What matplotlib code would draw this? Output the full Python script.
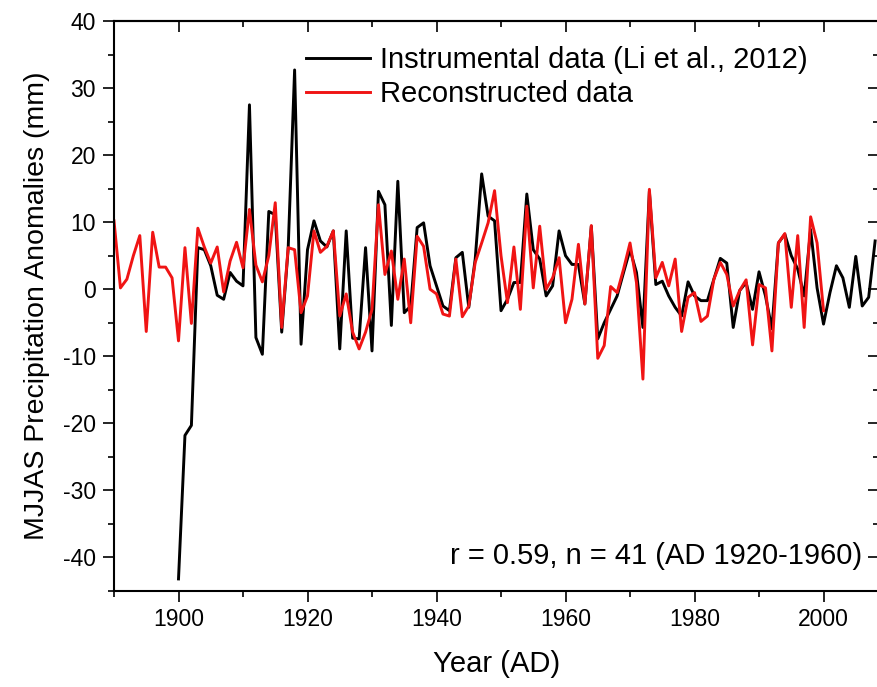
import matplotlib
matplotlib.use("Agg")
import matplotlib.pyplot as plt
from matplotlib.ticker import MultipleLocator

plt.rcParams['font.family'] = ['Liberation Sans', 'DejaVu Sans']
plt.rcParams['axes.unicode_minus'] = False

recon_years = list(range(1890, 2001))
recon_vals = [
    10.2, 0.2, 1.5, 5.0, 8.0, -6.3, 8.5, 3.3, 3.3, 1.7,
    -7.7, 6.2, -5.1, 9.1, 6.3, 3.9, 6.3, -0.4, 4.2, 7.0,
    3.2, 11.9, 3.6, 1.1, 5.0, 12.9, -5.7, 6.2, 5.9, -3.5,
    -1.0, 8.7, 5.5, 6.4, 8.7, -4.0, -0.7, -6.4, -8.9, -6.4,
    -3.0, 12.6, 2.2, 5.7, -1.5, 4.5, -5.0, 7.9, 6.4, 0.0,
    -0.7, -3.7, -4.0, 4.5, -4.1, -2.5, 4.0, 6.9, 9.9, 14.7,
    5.0, -2.0, 6.3, -3.0, 12.4, 0.2, 9.4, 0.0, 1.7, 4.7,
    -5.0, -1.5, 6.7, -2.2, 9.5, -10.3, -8.4, 0.4, -0.5, 3.0,
    6.9, 1.0, -13.4, 14.9, 1.7, 4.0, 0.5, 4.5, -6.3, -1.2,
    -0.5, -4.8, -4.0, 1.5, 4.0, 2.2, -2.5, -0.2, 1.4, -8.3,
    0.7, 0.2, -9.2, 6.9, 8.3, -2.7, 8.0, -5.7, 10.8, 6.9,
    -3.2,
]

instr_years = list(range(1900, 2009))
instr_vals = [
    -43.2, -21.8, -20.3, 6.2, 5.9, 3.5, -0.9, -1.5, 2.5, 1.2,
    0.5, 27.5, -7.2, -9.7, 11.6, 11.1, -6.4, 6.0, 32.7, -8.2,
    5.9, 10.2, 7.2, 6.3, 8.7, -8.9, 8.7, -7.3, -7.4, 6.2,
    -9.2, 14.6, 12.6, -5.4, 16.1, -3.5, -2.5, 9.2, 9.9, 3.5,
    0.5, -2.5, -3.2, 4.7, 5.5, -2.7, 4.5, 17.2, 10.9, 10.2,
    -3.2, -1.5, 1.0, 1.0, 14.2, 5.9, 4.5, -1.0, 0.5, 8.7,
    5.0, 3.7, 3.7, -2.2, 9.4, -7.4, -5.0, -3.0, -1.0, 2.5,
    5.9, 2.5, -5.7, 14.6, 0.7, 1.2, -1.0, -2.7, -4.0, 1.1,
    -1.0, -1.7, -1.7, 1.5, 4.6, 3.9, -5.7, -0.2, 1.0, -3.0,
    2.6, -1.0, -5.9, 6.9, 8.2, 5.0, 3.0, -1.0, 8.9, 0.2,
    -5.2, -0.5, 3.5, 1.7, -2.7, 4.9, -2.5, -1.2, 7.2,
]

x_ticks = [1900, 1920, 1940, 1960, 1980, 2000]
y_ticks = [-40, -30, -20, -10, 0, 10, 20, 30, 40]

fig = plt.figure(figsize=(8.77, 6.87), dpi=100)
W, H = 877, 687
left, right, top, bottom = 114, 879, 21, 591
ax = fig.add_axes([left / W, 1 - bottom / H, (right - left) / W, (bottom - top) / H])

l1, = ax.plot(instr_years, instr_vals, color='black', lw=2.1,
              label='Instrumental data (Li et al., 2012)')
l2, = ax.plot(recon_years, recon_vals, color='#f01414', lw=2.1,
              label='Reconstructed data')

ax.set_xlim(1890, 2008.6)
ax.set_ylim(-45, 40)
ax.set_xticks(x_ticks)
ax.set_yticks(y_ticks)
ax.xaxis.set_minor_locator(MultipleLocator(10))
ax.yaxis.set_minor_locator(MultipleLocator(5))
ax.tick_params(which='major', direction='out', length=8, width=1.2, labelsize=16.5)
ax.tick_params(which='minor', direction='out', length=4, width=1.2)
ax.tick_params(axis='x', pad=4)
ax.tick_params(axis='y', pad=5)
for s in ax.spines.values():
    s.set_linewidth(1.5)

secx = ax.secondary_xaxis('top')
secx.set_xticks(x_ticks)
secx.xaxis.set_minor_locator(MultipleLocator(10))
secx.tick_params(which='major', direction='in', length=8, width=1.2, labeltop=False)
secx.tick_params(which='minor', direction='in', length=4, width=1.2)
secx.spines['top'].set_linewidth(1.5)

secy = ax.secondary_yaxis('right')
secy.set_yticks(y_ticks)
secy.yaxis.set_minor_locator(MultipleLocator(5))
secy.tick_params(which='major', direction='in', length=8, width=1.2, labelright=False)
secy.tick_params(which='minor', direction='in', length=4, width=1.2)
secy.spines['right'].set_linewidth(1.5)

ax.set_xlabel('Year (AD)', fontsize=21, labelpad=14)
ax.set_ylabel('MJJAS Precipitation Anomalies (mm)', fontsize=20.5, labelpad=9)

ax.legend(handles=[l1, l2], loc='upper left', bbox_to_anchor=(306 / W, 1 - 46 / H),
          bbox_transform=fig.transFigure, frameon=False, fontsize=21,
          handlelength=2.2, handletextpad=0.35, labelspacing=0.2,
          borderpad=0, borderaxespad=0)

fig.text(862 / W, 1 - 556 / H, 'r = 0.59, n = 41 (AD 1920-1960)', fontsize=21,
         ha='right', va='center')

fig.savefig('out.png', dpi=100)
